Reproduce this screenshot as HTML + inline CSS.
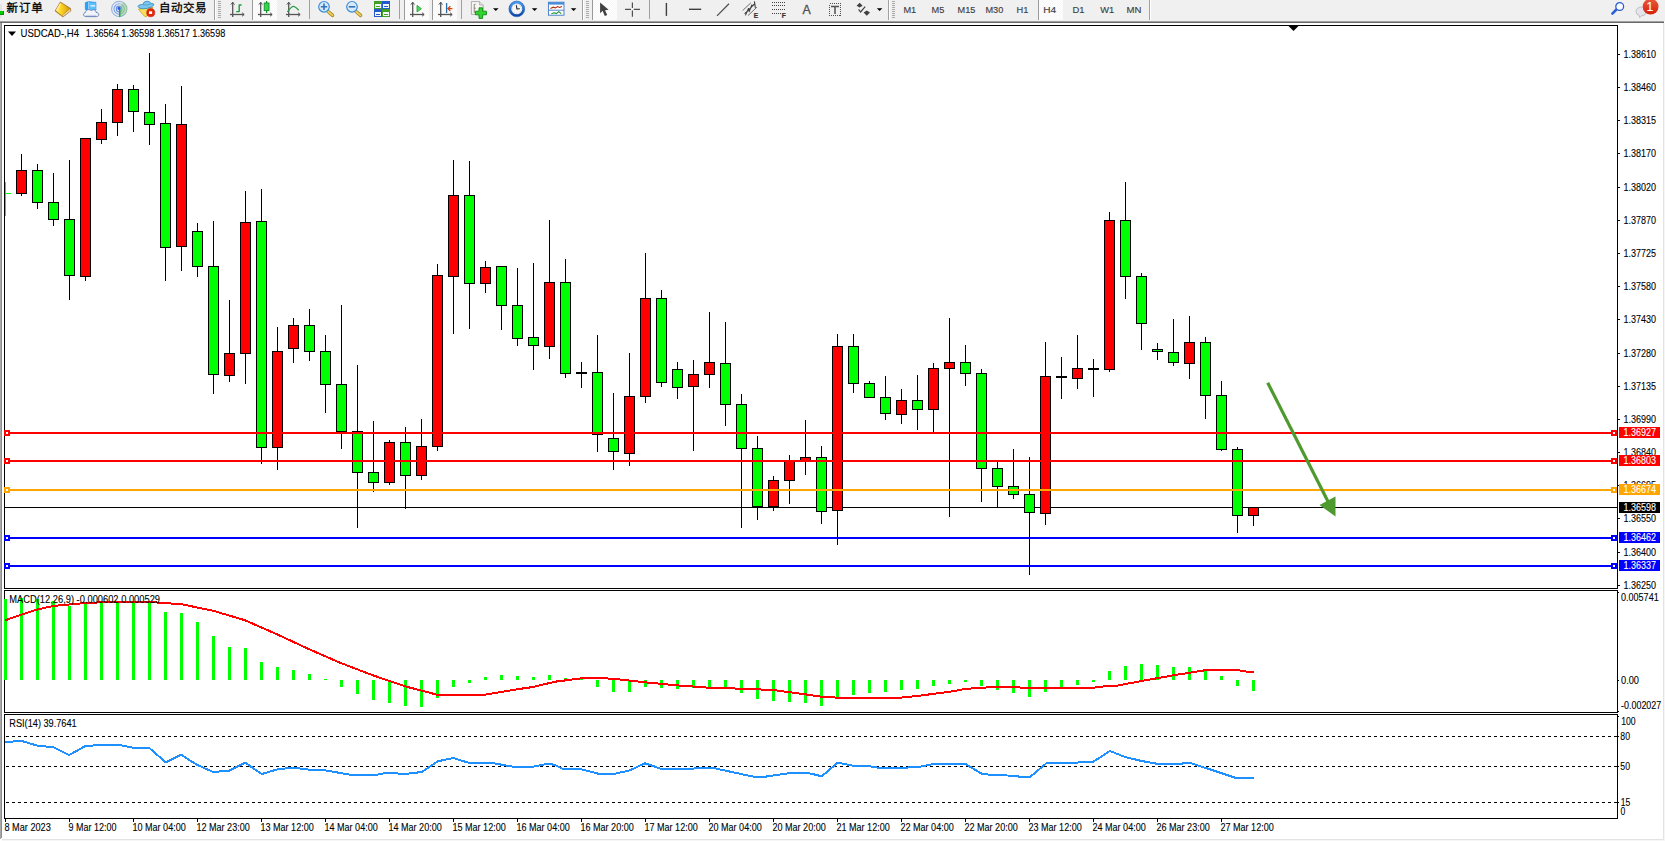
<!DOCTYPE html>
<html lang="zh"><head><meta charset="utf-8"><title>USDCAD-,H4</title>
<style>html,body{margin:0;padding:0;background:#fff;overflow:hidden}body{width:1665px;height:841px;position:relative;font-family:"Liberation Sans", "Noto Sans CJK SC", sans-serif}svg{position:absolute;left:0;top:0;display:block}text{font-family:"Liberation Sans", "Noto Sans CJK SC", sans-serif}</style>
</head><body>
<svg width="1665" height="841" viewBox="0 0 1665 841">
<rect x="0" y="0" width="1665" height="841" fill="#fff"/>
<g shape-rendering="crispEdges">
<rect x="0" y="0" width="1665" height="21" fill="#f0f0f0"/>
<rect x="0" y="21" width="1664" height="1" fill="#a0a0a0"/>
<rect x="0" y="22" width="1664" height="1" fill="#696969"/>
<rect x="0" y="23" width="1" height="816" fill="#a8a8a8"/>
<rect x="1" y="23" width="1" height="815" fill="#8c8c8c"/>
<rect x="1663" y="23" width="1" height="817" fill="#e3e3e3"/>
<rect x="2" y="839" width="1662" height="1" fill="#e3e3e3"/>
<rect x="2" y="840" width="1663" height="1" fill="#f6f6f6"/>
<rect x="1664" y="23" width="1" height="818" fill="#f6f6f6"/>
<rect x="4" y="25" width="1614" height="1" fill="#000"/>
<rect x="4" y="588" width="1614" height="1" fill="#000"/>
<rect x="4" y="25" width="1" height="564" fill="#000"/>
<rect x="1617" y="25" width="1" height="564" fill="#000"/>
<rect x="4" y="590" width="1614" height="1" fill="#000"/>
<rect x="4" y="712" width="1614" height="1" fill="#000"/>
<rect x="4" y="590" width="1" height="123" fill="#000"/>
<rect x="1617" y="590" width="1" height="123" fill="#000"/>
<rect x="4" y="714" width="1614" height="1" fill="#000"/>
<rect x="4" y="818" width="1614" height="1" fill="#000"/>
<rect x="4" y="714" width="1" height="105" fill="#000"/>
<rect x="1617" y="714" width="1" height="105" fill="#000"/>
<rect x="5" y="507" width="1612" height="1" fill="#000"/>
<rect x="5" y="182" width="1" height="34" fill="#00ff00"/><rect x="5" y="193" width="6" height="1" fill="#00ff00"/>
<rect x="21" y="154" width="1" height="42" fill="#000"/>
<rect x="16" y="170" width="11" height="24" fill="#000"/>
<rect x="17" y="171" width="9" height="22" fill="#ff0000"/>
<rect x="37" y="164" width="1" height="45" fill="#000"/>
<rect x="32" y="170" width="11" height="33" fill="#000"/>
<rect x="33" y="171" width="9" height="31" fill="#00ff00"/>
<rect x="53" y="173" width="1" height="53" fill="#000"/>
<rect x="48" y="202" width="11" height="18" fill="#000"/>
<rect x="49" y="203" width="9" height="16" fill="#00ff00"/>
<rect x="69" y="160" width="1" height="140" fill="#000"/>
<rect x="64" y="219" width="11" height="57" fill="#000"/>
<rect x="65" y="220" width="9" height="55" fill="#00ff00"/>
<rect x="85" y="138" width="1" height="143" fill="#000"/>
<rect x="80" y="138" width="11" height="139" fill="#000"/>
<rect x="81" y="139" width="9" height="137" fill="#ff0000"/>
<rect x="101" y="109" width="1" height="35" fill="#000"/>
<rect x="96" y="122" width="11" height="18" fill="#000"/>
<rect x="97" y="123" width="9" height="16" fill="#ff0000"/>
<rect x="117" y="84" width="1" height="52" fill="#000"/>
<rect x="112" y="89" width="11" height="34" fill="#000"/>
<rect x="113" y="90" width="9" height="32" fill="#ff0000"/>
<rect x="133" y="85" width="1" height="47" fill="#000"/>
<rect x="128" y="89" width="11" height="23" fill="#000"/>
<rect x="129" y="90" width="9" height="21" fill="#00ff00"/>
<rect x="149" y="53" width="1" height="92" fill="#000"/>
<rect x="144" y="112" width="11" height="13" fill="#000"/>
<rect x="145" y="113" width="9" height="11" fill="#00ff00"/>
<rect x="165" y="104" width="1" height="177" fill="#000"/>
<rect x="160" y="123" width="11" height="125" fill="#000"/>
<rect x="161" y="124" width="9" height="123" fill="#00ff00"/>
<rect x="181" y="86" width="1" height="185" fill="#000"/>
<rect x="176" y="124" width="11" height="123" fill="#000"/>
<rect x="177" y="125" width="9" height="121" fill="#ff0000"/>
<rect x="197" y="223" width="1" height="54" fill="#000"/>
<rect x="192" y="231" width="11" height="36" fill="#000"/>
<rect x="193" y="232" width="9" height="34" fill="#00ff00"/>
<rect x="213" y="221" width="1" height="173" fill="#000"/>
<rect x="208" y="266" width="11" height="109" fill="#000"/>
<rect x="209" y="267" width="9" height="107" fill="#00ff00"/>
<rect x="229" y="300" width="1" height="82" fill="#000"/>
<rect x="224" y="353" width="11" height="23" fill="#000"/>
<rect x="225" y="354" width="9" height="21" fill="#ff0000"/>
<rect x="245" y="191" width="1" height="193" fill="#000"/>
<rect x="240" y="222" width="11" height="132" fill="#000"/>
<rect x="241" y="223" width="9" height="130" fill="#ff0000"/>
<rect x="261" y="189" width="1" height="275" fill="#000"/>
<rect x="256" y="221" width="11" height="227" fill="#000"/>
<rect x="257" y="222" width="9" height="225" fill="#00ff00"/>
<rect x="277" y="327" width="1" height="143" fill="#000"/>
<rect x="272" y="351" width="11" height="97" fill="#000"/>
<rect x="273" y="352" width="9" height="95" fill="#ff0000"/>
<rect x="293" y="318" width="1" height="45" fill="#000"/>
<rect x="288" y="325" width="11" height="24" fill="#000"/>
<rect x="289" y="326" width="9" height="22" fill="#ff0000"/>
<rect x="309" y="309" width="1" height="52" fill="#000"/>
<rect x="304" y="325" width="11" height="27" fill="#000"/>
<rect x="305" y="326" width="9" height="25" fill="#00ff00"/>
<rect x="325" y="335" width="1" height="78" fill="#000"/>
<rect x="320" y="351" width="11" height="34" fill="#000"/>
<rect x="321" y="352" width="9" height="32" fill="#00ff00"/>
<rect x="341" y="305" width="1" height="144" fill="#000"/>
<rect x="336" y="384" width="11" height="48" fill="#000"/>
<rect x="337" y="385" width="9" height="46" fill="#00ff00"/>
<rect x="357" y="365" width="1" height="163" fill="#000"/>
<rect x="352" y="431" width="11" height="42" fill="#000"/>
<rect x="353" y="432" width="9" height="40" fill="#00ff00"/>
<rect x="373" y="421" width="1" height="71" fill="#000"/>
<rect x="368" y="472" width="11" height="11" fill="#000"/>
<rect x="369" y="473" width="9" height="9" fill="#00ff00"/>
<rect x="389" y="440" width="1" height="45" fill="#000"/>
<rect x="384" y="442" width="11" height="41" fill="#000"/>
<rect x="385" y="443" width="9" height="39" fill="#ff0000"/>
<rect x="405" y="427" width="1" height="82" fill="#000"/>
<rect x="400" y="442" width="11" height="34" fill="#000"/>
<rect x="401" y="443" width="9" height="32" fill="#00ff00"/>
<rect x="421" y="419" width="1" height="61" fill="#000"/>
<rect x="416" y="446" width="11" height="30" fill="#000"/>
<rect x="417" y="447" width="9" height="28" fill="#ff0000"/>
<rect x="437" y="264" width="1" height="187" fill="#000"/>
<rect x="432" y="275" width="11" height="172" fill="#000"/>
<rect x="433" y="276" width="9" height="170" fill="#ff0000"/>
<rect x="453" y="160" width="1" height="174" fill="#000"/>
<rect x="448" y="195" width="11" height="82" fill="#000"/>
<rect x="449" y="196" width="9" height="80" fill="#ff0000"/>
<rect x="469" y="161" width="1" height="168" fill="#000"/>
<rect x="464" y="195" width="11" height="89" fill="#000"/>
<rect x="465" y="196" width="9" height="87" fill="#00ff00"/>
<rect x="485" y="261" width="1" height="32" fill="#000"/>
<rect x="480" y="267" width="11" height="17" fill="#000"/>
<rect x="481" y="268" width="9" height="15" fill="#ff0000"/>
<rect x="501" y="266" width="1" height="64" fill="#000"/>
<rect x="496" y="266" width="11" height="40" fill="#000"/>
<rect x="497" y="267" width="9" height="38" fill="#00ff00"/>
<rect x="517" y="268" width="1" height="78" fill="#000"/>
<rect x="512" y="305" width="11" height="34" fill="#000"/>
<rect x="513" y="306" width="9" height="32" fill="#00ff00"/>
<rect x="533" y="263" width="1" height="107" fill="#000"/>
<rect x="528" y="337" width="11" height="9" fill="#000"/>
<rect x="529" y="338" width="9" height="7" fill="#00ff00"/>
<rect x="549" y="220" width="1" height="139" fill="#000"/>
<rect x="544" y="282" width="11" height="65" fill="#000"/>
<rect x="545" y="283" width="9" height="63" fill="#ff0000"/>
<rect x="565" y="259" width="1" height="119" fill="#000"/>
<rect x="560" y="282" width="11" height="92" fill="#000"/>
<rect x="561" y="283" width="9" height="90" fill="#00ff00"/>
<rect x="581" y="362" width="1" height="26" fill="#000"/>
<rect x="576" y="372" width="11" height="2" fill="#000"/>
<rect x="597" y="335" width="1" height="117" fill="#000"/>
<rect x="592" y="372" width="11" height="63" fill="#000"/>
<rect x="593" y="373" width="9" height="61" fill="#00ff00"/>
<rect x="613" y="393" width="1" height="77" fill="#000"/>
<rect x="608" y="438" width="11" height="14" fill="#000"/>
<rect x="609" y="439" width="9" height="12" fill="#00ff00"/>
<rect x="629" y="353" width="1" height="113" fill="#000"/>
<rect x="624" y="396" width="11" height="58" fill="#000"/>
<rect x="625" y="397" width="9" height="56" fill="#ff0000"/>
<rect x="645" y="253" width="1" height="150" fill="#000"/>
<rect x="640" y="298" width="11" height="99" fill="#000"/>
<rect x="641" y="299" width="9" height="97" fill="#ff0000"/>
<rect x="661" y="290" width="1" height="97" fill="#000"/>
<rect x="656" y="298" width="11" height="85" fill="#000"/>
<rect x="657" y="299" width="9" height="83" fill="#00ff00"/>
<rect x="677" y="362" width="1" height="37" fill="#000"/>
<rect x="672" y="369" width="11" height="19" fill="#000"/>
<rect x="673" y="370" width="9" height="17" fill="#00ff00"/>
<rect x="693" y="360" width="1" height="91" fill="#000"/>
<rect x="688" y="374" width="11" height="13" fill="#000"/>
<rect x="689" y="375" width="9" height="11" fill="#ff0000"/>
<rect x="709" y="312" width="1" height="76" fill="#000"/>
<rect x="704" y="362" width="11" height="13" fill="#000"/>
<rect x="705" y="363" width="9" height="11" fill="#ff0000"/>
<rect x="725" y="322" width="1" height="104" fill="#000"/>
<rect x="720" y="363" width="11" height="42" fill="#000"/>
<rect x="721" y="364" width="9" height="40" fill="#00ff00"/>
<rect x="741" y="394" width="1" height="134" fill="#000"/>
<rect x="736" y="404" width="11" height="45" fill="#000"/>
<rect x="737" y="405" width="9" height="43" fill="#00ff00"/>
<rect x="757" y="436" width="1" height="84" fill="#000"/>
<rect x="752" y="448" width="11" height="59" fill="#000"/>
<rect x="753" y="449" width="9" height="57" fill="#00ff00"/>
<rect x="773" y="476" width="1" height="35" fill="#000"/>
<rect x="768" y="480" width="11" height="27" fill="#000"/>
<rect x="769" y="481" width="9" height="25" fill="#ff0000"/>
<rect x="789" y="455" width="1" height="49" fill="#000"/>
<rect x="784" y="460" width="11" height="21" fill="#000"/>
<rect x="785" y="461" width="9" height="19" fill="#ff0000"/>
<rect x="805" y="420" width="1" height="55" fill="#000"/>
<rect x="800" y="457" width="11" height="4" fill="#000"/>
<rect x="801" y="458" width="9" height="2" fill="#ff0000"/>
<rect x="821" y="446" width="1" height="78" fill="#000"/>
<rect x="816" y="457" width="11" height="55" fill="#000"/>
<rect x="817" y="458" width="9" height="53" fill="#00ff00"/>
<rect x="837" y="334" width="1" height="211" fill="#000"/>
<rect x="832" y="346" width="11" height="165" fill="#000"/>
<rect x="833" y="347" width="9" height="163" fill="#ff0000"/>
<rect x="853" y="334" width="1" height="59" fill="#000"/>
<rect x="848" y="346" width="11" height="38" fill="#000"/>
<rect x="849" y="347" width="9" height="36" fill="#00ff00"/>
<rect x="869" y="381" width="1" height="17" fill="#000"/>
<rect x="864" y="383" width="11" height="15" fill="#000"/>
<rect x="865" y="384" width="9" height="13" fill="#00ff00"/>
<rect x="885" y="376" width="1" height="44" fill="#000"/>
<rect x="880" y="397" width="11" height="17" fill="#000"/>
<rect x="881" y="398" width="9" height="15" fill="#00ff00"/>
<rect x="901" y="389" width="1" height="35" fill="#000"/>
<rect x="896" y="400" width="11" height="15" fill="#000"/>
<rect x="897" y="401" width="9" height="13" fill="#ff0000"/>
<rect x="917" y="375" width="1" height="55" fill="#000"/>
<rect x="912" y="400" width="11" height="10" fill="#000"/>
<rect x="913" y="401" width="9" height="8" fill="#00ff00"/>
<rect x="933" y="363" width="1" height="69" fill="#000"/>
<rect x="928" y="368" width="11" height="42" fill="#000"/>
<rect x="929" y="369" width="9" height="40" fill="#ff0000"/>
<rect x="949" y="318" width="1" height="199" fill="#000"/>
<rect x="944" y="362" width="11" height="7" fill="#000"/>
<rect x="945" y="363" width="9" height="5" fill="#ff0000"/>
<rect x="965" y="345" width="1" height="41" fill="#000"/>
<rect x="960" y="362" width="11" height="12" fill="#000"/>
<rect x="961" y="363" width="9" height="10" fill="#00ff00"/>
<rect x="981" y="369" width="1" height="133" fill="#000"/>
<rect x="976" y="373" width="11" height="96" fill="#000"/>
<rect x="977" y="374" width="9" height="94" fill="#00ff00"/>
<rect x="997" y="462" width="1" height="46" fill="#000"/>
<rect x="992" y="468" width="11" height="19" fill="#000"/>
<rect x="993" y="469" width="9" height="17" fill="#00ff00"/>
<rect x="1013" y="449" width="1" height="50" fill="#000"/>
<rect x="1008" y="486" width="11" height="9" fill="#000"/>
<rect x="1009" y="487" width="9" height="7" fill="#00ff00"/>
<rect x="1029" y="457" width="1" height="118" fill="#000"/>
<rect x="1024" y="494" width="11" height="19" fill="#000"/>
<rect x="1025" y="495" width="9" height="17" fill="#00ff00"/>
<rect x="1045" y="342" width="1" height="183" fill="#000"/>
<rect x="1040" y="376" width="11" height="138" fill="#000"/>
<rect x="1041" y="377" width="9" height="136" fill="#ff0000"/>
<rect x="1061" y="357" width="1" height="42" fill="#000"/>
<rect x="1056" y="376" width="11" height="2" fill="#000"/>
<rect x="1077" y="335" width="1" height="54" fill="#000"/>
<rect x="1072" y="368" width="11" height="11" fill="#000"/>
<rect x="1073" y="369" width="9" height="9" fill="#ff0000"/>
<rect x="1093" y="359" width="1" height="38" fill="#000"/>
<rect x="1088" y="368" width="11" height="2" fill="#000"/>
<rect x="1109" y="212" width="1" height="160" fill="#000"/>
<rect x="1104" y="220" width="11" height="150" fill="#000"/>
<rect x="1105" y="221" width="9" height="148" fill="#ff0000"/>
<rect x="1125" y="182" width="1" height="117" fill="#000"/>
<rect x="1120" y="220" width="11" height="57" fill="#000"/>
<rect x="1121" y="221" width="9" height="55" fill="#00ff00"/>
<rect x="1141" y="273" width="1" height="77" fill="#000"/>
<rect x="1136" y="276" width="11" height="48" fill="#000"/>
<rect x="1137" y="277" width="9" height="46" fill="#00ff00"/>
<rect x="1157" y="343" width="1" height="17" fill="#000"/>
<rect x="1152" y="349" width="11" height="3" fill="#000"/>
<rect x="1153" y="350" width="9" height="1" fill="#00ff00"/>
<rect x="1173" y="319" width="1" height="47" fill="#000"/>
<rect x="1168" y="352" width="11" height="11" fill="#000"/>
<rect x="1169" y="353" width="9" height="9" fill="#00ff00"/>
<rect x="1189" y="316" width="1" height="63" fill="#000"/>
<rect x="1184" y="342" width="11" height="22" fill="#000"/>
<rect x="1185" y="343" width="9" height="20" fill="#ff0000"/>
<rect x="1205" y="337" width="1" height="82" fill="#000"/>
<rect x="1200" y="342" width="11" height="54" fill="#000"/>
<rect x="1201" y="343" width="9" height="52" fill="#00ff00"/>
<rect x="1221" y="381" width="1" height="70" fill="#000"/>
<rect x="1216" y="395" width="11" height="55" fill="#000"/>
<rect x="1217" y="396" width="9" height="53" fill="#00ff00"/>
<rect x="1237" y="447" width="1" height="86" fill="#000"/>
<rect x="1232" y="449" width="11" height="67" fill="#000"/>
<rect x="1233" y="450" width="9" height="65" fill="#00ff00"/>
<rect x="1253" y="507" width="1" height="19" fill="#000"/>
<rect x="1248" y="507" width="11" height="9" fill="#000"/>
<rect x="1249" y="508" width="9" height="7" fill="#ff0000"/>
</g>
<g shape-rendering="crispEdges">
<rect x="5" y="432" width="1612" height="2" fill="#ff0000"/>
<rect x="4" y="430" width="6" height="6" fill="#ff0000"/><rect x="6" y="432" width="2" height="2" fill="#fff"/>
<rect x="1611" y="430" width="6" height="6" fill="#ff0000"/><rect x="1613" y="432" width="2" height="2" fill="#fff"/>
<rect x="5" y="460" width="1612" height="2" fill="#ff0000"/>
<rect x="4" y="458" width="6" height="6" fill="#ff0000"/><rect x="6" y="460" width="2" height="2" fill="#fff"/>
<rect x="1611" y="458" width="6" height="6" fill="#ff0000"/><rect x="1613" y="460" width="2" height="2" fill="#fff"/>
<rect x="5" y="489" width="1612" height="2" fill="#ffa500"/>
<rect x="4" y="487" width="6" height="6" fill="#ffa500"/><rect x="6" y="489" width="2" height="2" fill="#fff"/>
<rect x="1611" y="487" width="6" height="6" fill="#ffa500"/><rect x="1613" y="489" width="2" height="2" fill="#fff"/>
<rect x="5" y="537" width="1612" height="2" fill="#0000ff"/>
<rect x="4" y="535" width="6" height="6" fill="#0000ff"/><rect x="6" y="537" width="2" height="2" fill="#fff"/>
<rect x="1611" y="535" width="6" height="6" fill="#0000ff"/><rect x="1613" y="537" width="2" height="2" fill="#fff"/>
<rect x="5" y="565" width="1612" height="2" fill="#0000ff"/>
<rect x="4" y="563" width="6" height="6" fill="#0000ff"/><rect x="6" y="565" width="2" height="2" fill="#fff"/>
<rect x="1611" y="563" width="6" height="6" fill="#0000ff"/><rect x="1613" y="565" width="2" height="2" fill="#fff"/>
<rect x="1618" y="54" width="2" height="1" fill="#000"/>
<rect x="1618" y="87" width="2" height="1" fill="#000"/>
<rect x="1618" y="120" width="2" height="1" fill="#000"/>
<rect x="1618" y="153" width="2" height="1" fill="#000"/>
<rect x="1618" y="187" width="2" height="1" fill="#000"/>
<rect x="1618" y="220" width="2" height="1" fill="#000"/>
<rect x="1618" y="253" width="2" height="1" fill="#000"/>
<rect x="1618" y="286" width="2" height="1" fill="#000"/>
<rect x="1618" y="319" width="2" height="1" fill="#000"/>
<rect x="1618" y="353" width="2" height="1" fill="#000"/>
<rect x="1618" y="386" width="2" height="1" fill="#000"/>
<rect x="1618" y="419" width="2" height="1" fill="#000"/>
<rect x="1618" y="452" width="2" height="1" fill="#000"/>
<rect x="1618" y="485" width="2" height="1" fill="#000"/>
<rect x="1618" y="518" width="2" height="1" fill="#000"/>
<rect x="1618" y="552" width="2" height="1" fill="#000"/>
<rect x="1618" y="585" width="2" height="1" fill="#000"/>
<rect x="1618" y="592" width="1" height="1" fill="#000"/>
<rect x="1618" y="680" width="1" height="1" fill="#000"/>
<rect x="1618" y="711" width="1" height="1" fill="#000"/>
<rect x="1618" y="716" width="1" height="1" fill="#000"/>
<rect x="1618" y="736" width="1" height="1" fill="#000"/>
<rect x="1618" y="766" width="1" height="1" fill="#000"/>
<rect x="1618" y="802" width="1" height="1" fill="#000"/>
<polygon points="1288.5,26 1298.5,26 1293.5,31" fill="#000" shape-rendering="auto"/>
<rect x="4" y="599" width="3" height="81" fill="#00ff00"/>
<rect x="20" y="598" width="3" height="82" fill="#00ff00"/>
<rect x="36" y="599" width="3" height="81" fill="#00ff00"/>
<rect x="52" y="601" width="3" height="79" fill="#00ff00"/>
<rect x="68" y="606" width="3" height="74" fill="#00ff00"/>
<rect x="84" y="604" width="3" height="76" fill="#00ff00"/>
<rect x="100" y="603" width="3" height="77" fill="#00ff00"/>
<rect x="116" y="602" width="3" height="78" fill="#00ff00"/>
<rect x="132" y="602" width="3" height="78" fill="#00ff00"/>
<rect x="148" y="602" width="3" height="78" fill="#00ff00"/>
<rect x="164" y="612" width="3" height="68" fill="#00ff00"/>
<rect x="180" y="613" width="3" height="67" fill="#00ff00"/>
<rect x="196" y="622" width="3" height="58" fill="#00ff00"/>
<rect x="212" y="636" width="3" height="44" fill="#00ff00"/>
<rect x="228" y="647" width="3" height="33" fill="#00ff00"/>
<rect x="244" y="648" width="3" height="32" fill="#00ff00"/>
<rect x="260" y="662" width="3" height="18" fill="#00ff00"/>
<rect x="276" y="667" width="3" height="13" fill="#00ff00"/>
<rect x="292" y="670" width="3" height="10" fill="#00ff00"/>
<rect x="308" y="674" width="3" height="6" fill="#00ff00"/>
<rect x="324" y="679" width="3" height="1" fill="#00ff00"/>
<rect x="340" y="680" width="3" height="7" fill="#00ff00"/>
<rect x="356" y="680" width="3" height="14" fill="#00ff00"/>
<rect x="372" y="680" width="3" height="20" fill="#00ff00"/>
<rect x="388" y="680" width="3" height="23" fill="#00ff00"/>
<rect x="404" y="680" width="3" height="26" fill="#00ff00"/>
<rect x="420" y="680" width="3" height="27" fill="#00ff00"/>
<rect x="436" y="680" width="3" height="18" fill="#00ff00"/>
<rect x="452" y="680" width="3" height="7" fill="#00ff00"/>
<rect x="468" y="680" width="3" height="3" fill="#00ff00"/>
<rect x="484" y="677" width="3" height="3" fill="#00ff00"/>
<rect x="500" y="675" width="3" height="5" fill="#00ff00"/>
<rect x="516" y="676" width="3" height="4" fill="#00ff00"/>
<rect x="532" y="677" width="3" height="3" fill="#00ff00"/>
<rect x="548" y="675" width="3" height="5" fill="#00ff00"/>
<rect x="564" y="678" width="3" height="2" fill="#00ff00"/>
<rect x="580" y="679" width="3" height="1" fill="#00ff00"/>
<rect x="596" y="680" width="3" height="7" fill="#00ff00"/>
<rect x="612" y="680" width="3" height="12" fill="#00ff00"/>
<rect x="628" y="680" width="3" height="12" fill="#00ff00"/>
<rect x="644" y="680" width="3" height="7" fill="#00ff00"/>
<rect x="660" y="680" width="3" height="8" fill="#00ff00"/>
<rect x="676" y="680" width="3" height="9" fill="#00ff00"/>
<rect x="692" y="680" width="3" height="8" fill="#00ff00"/>
<rect x="708" y="680" width="3" height="7" fill="#00ff00"/>
<rect x="724" y="680" width="3" height="8" fill="#00ff00"/>
<rect x="740" y="680" width="3" height="13" fill="#00ff00"/>
<rect x="756" y="680" width="3" height="19" fill="#00ff00"/>
<rect x="772" y="680" width="3" height="21" fill="#00ff00"/>
<rect x="788" y="680" width="3" height="22" fill="#00ff00"/>
<rect x="804" y="680" width="3" height="23" fill="#00ff00"/>
<rect x="820" y="680" width="3" height="26" fill="#00ff00"/>
<rect x="836" y="680" width="3" height="18" fill="#00ff00"/>
<rect x="852" y="680" width="3" height="15" fill="#00ff00"/>
<rect x="868" y="680" width="3" height="13" fill="#00ff00"/>
<rect x="884" y="680" width="3" height="12" fill="#00ff00"/>
<rect x="900" y="680" width="3" height="10" fill="#00ff00"/>
<rect x="916" y="680" width="3" height="9" fill="#00ff00"/>
<rect x="932" y="680" width="3" height="6" fill="#00ff00"/>
<rect x="948" y="680" width="3" height="4" fill="#00ff00"/>
<rect x="964" y="680" width="3" height="2" fill="#00ff00"/>
<rect x="980" y="680" width="3" height="6" fill="#00ff00"/>
<rect x="996" y="680" width="3" height="10" fill="#00ff00"/>
<rect x="1012" y="680" width="3" height="13" fill="#00ff00"/>
<rect x="1028" y="680" width="3" height="17" fill="#00ff00"/>
<rect x="1044" y="680" width="3" height="12" fill="#00ff00"/>
<rect x="1060" y="680" width="3" height="8" fill="#00ff00"/>
<rect x="1076" y="680" width="3" height="5" fill="#00ff00"/>
<rect x="1092" y="680" width="3" height="2" fill="#00ff00"/>
<rect x="1108" y="671" width="3" height="9" fill="#00ff00"/>
<rect x="1124" y="666" width="3" height="14" fill="#00ff00"/>
<rect x="1140" y="664" width="3" height="16" fill="#00ff00"/>
<rect x="1156" y="665" width="3" height="15" fill="#00ff00"/>
<rect x="1172" y="667" width="3" height="13" fill="#00ff00"/>
<rect x="1188" y="667" width="3" height="13" fill="#00ff00"/>
<rect x="1204" y="671" width="3" height="9" fill="#00ff00"/>
<rect x="1220" y="676" width="3" height="4" fill="#00ff00"/>
<rect x="1236" y="680" width="3" height="6" fill="#00ff00"/>
<rect x="1252" y="680" width="3" height="11" fill="#00ff00"/>
<line x1="6" y1="736.5" x2="1617" y2="736.5" stroke="#000" stroke-width="1" stroke-dasharray="3 3"/>
<line x1="6" y1="766.5" x2="1617" y2="766.5" stroke="#000" stroke-width="1" stroke-dasharray="3 3"/>
<line x1="6" y1="802.5" x2="1617" y2="802.5" stroke="#000" stroke-width="1" stroke-dasharray="3 3"/>
<rect x="5" y="819" width="1" height="3" fill="#000"/>
<rect x="69" y="819" width="1" height="3" fill="#000"/>
<rect x="133" y="819" width="1" height="3" fill="#000"/>
<rect x="197" y="819" width="1" height="3" fill="#000"/>
<rect x="261" y="819" width="1" height="3" fill="#000"/>
<rect x="325" y="819" width="1" height="3" fill="#000"/>
<rect x="389" y="819" width="1" height="3" fill="#000"/>
<rect x="453" y="819" width="1" height="3" fill="#000"/>
<rect x="517" y="819" width="1" height="3" fill="#000"/>
<rect x="581" y="819" width="1" height="3" fill="#000"/>
<rect x="645" y="819" width="1" height="3" fill="#000"/>
<rect x="709" y="819" width="1" height="3" fill="#000"/>
<rect x="773" y="819" width="1" height="3" fill="#000"/>
<rect x="837" y="819" width="1" height="3" fill="#000"/>
<rect x="901" y="819" width="1" height="3" fill="#000"/>
<rect x="965" y="819" width="1" height="3" fill="#000"/>
<rect x="1029" y="819" width="1" height="3" fill="#000"/>
<rect x="1093" y="819" width="1" height="3" fill="#000"/>
<rect x="1157" y="819" width="1" height="3" fill="#000"/>
<rect x="1221" y="819" width="1" height="3" fill="#000"/>
</g>
<polyline shape-rendering="crispEdges" fill="none" stroke="#ff0000" stroke-width="2" stroke-linejoin="round" points="5.0,620.3 36.7,609.7 53.0,606.0 85.0,603.0 117.0,601.7 150.0,602.0 181.7,604.3 213.0,610.7 245.0,620.3 277.0,634.3 308.0,648.7 340.0,662.7 372.0,675.0 405.0,686.3 437.0,694.7 485.0,694.7 517.0,689.3 533.0,687.0 555.0,681.7 586.7,677.7 613.3,678.7 645.0,682.3 676.7,685.3 708.3,687.7 741.7,688.7 773.3,690.0 805.0,694.3 821.7,696.7 838.3,697.7 900.0,697.7 916.7,696.0 948.3,692.0 965.0,689.0 981.7,687.7 998.3,687.0 1028.3,687.7 1093.3,687.7 1110.0,685.7 1116.7,685.7 1141.7,681.0 1173.3,675.3 1206.7,670.0 1236.7,670.0 1246.7,671.7 1254.0,671.7"/>
<polyline shape-rendering="crispEdges" fill="none" stroke="#1e90ff" stroke-width="2" stroke-linejoin="round" points="5.0,742.0 21.7,741.0 37.7,745.7 53.3,747.3 69.3,755.0 85.3,746.0 101.7,745.0 118.3,744.7 133.3,747.7 149.3,748.0 165.7,762.3 181.0,754.7 197.3,765.0 213.3,772.0 229.3,770.7 245.3,762.7 261.7,774.0 277.7,769.3 293.3,767.7 310.0,769.7 325.0,770.3 350.0,774.7 376.7,774.7 386.7,772.7 405.0,774.0 421.7,772.0 437.7,761.3 453.3,758.0 468.3,762.7 491.7,763.0 515.0,767.0 533.3,766.7 548.3,763.7 555.0,765.0 563.3,769.0 580.0,769.0 598.3,773.7 615.0,773.7 630.0,770.3 645.0,763.3 661.7,769.0 691.7,769.0 698.3,767.7 713.3,768.0 731.7,772.0 755.0,777.0 763.3,777.0 790.0,773.0 808.3,773.0 821.7,776.3 837.7,762.7 853.3,765.7 868.3,766.0 880.0,768.0 900.0,768.0 920.0,766.7 935.0,763.7 965.0,763.7 981.7,773.7 991.7,775.0 1013.3,775.7 1021.7,777.0 1030.0,777.0 1046.7,763.0 1076.7,763.0 1080.0,761.7 1093.3,761.7 1110.0,751.0 1125.0,757.0 1141.7,761.0 1160.0,764.3 1180.0,764.3 1183.3,763.3 1191.7,763.3 1235.0,777.7 1254.0,777.7"/>
<g><line x1="1267.7" y1="382.7" x2="1328.5" y2="502.5" stroke="#4e9a2e" stroke-width="3.2"/><polygon points="1335.5,496.5 1319.5,505 1335.5,516.5" fill="#4e9a2e"/></g>
<polygon points="8,31.5 16,31.5 12,36" fill="#000"/>
<text x="20.5" y="37" font-size="10.4" fill="#000" textLength="58.5" lengthAdjust="spacingAndGlyphs"  stroke="#000" stroke-width="0.1">USDCAD-,H4</text>
<text x="85.8" y="37" font-size="10.4" fill="#000" textLength="139.5" lengthAdjust="spacingAndGlyphs"  stroke="#000" stroke-width="0.1">1.36564 1.36598 1.36517 1.36598</text>
<text x="1623.5" y="58" font-size="10.4" fill="#000" textLength="32.5" lengthAdjust="spacingAndGlyphs"  stroke="#000" stroke-width="0.1">1.38610</text>
<text x="1623.5" y="91" font-size="10.4" fill="#000" textLength="32.5" lengthAdjust="spacingAndGlyphs"  stroke="#000" stroke-width="0.1">1.38460</text>
<text x="1623.5" y="124" font-size="10.4" fill="#000" textLength="32.5" lengthAdjust="spacingAndGlyphs"  stroke="#000" stroke-width="0.1">1.38315</text>
<text x="1623.5" y="157" font-size="10.4" fill="#000" textLength="32.5" lengthAdjust="spacingAndGlyphs"  stroke="#000" stroke-width="0.1">1.38170</text>
<text x="1623.5" y="191" font-size="10.4" fill="#000" textLength="32.5" lengthAdjust="spacingAndGlyphs"  stroke="#000" stroke-width="0.1">1.38020</text>
<text x="1623.5" y="224" font-size="10.4" fill="#000" textLength="32.5" lengthAdjust="spacingAndGlyphs"  stroke="#000" stroke-width="0.1">1.37870</text>
<text x="1623.5" y="257" font-size="10.4" fill="#000" textLength="32.5" lengthAdjust="spacingAndGlyphs"  stroke="#000" stroke-width="0.1">1.37725</text>
<text x="1623.5" y="290" font-size="10.4" fill="#000" textLength="32.5" lengthAdjust="spacingAndGlyphs"  stroke="#000" stroke-width="0.1">1.37580</text>
<text x="1623.5" y="323" font-size="10.4" fill="#000" textLength="32.5" lengthAdjust="spacingAndGlyphs"  stroke="#000" stroke-width="0.1">1.37430</text>
<text x="1623.5" y="357" font-size="10.4" fill="#000" textLength="32.5" lengthAdjust="spacingAndGlyphs"  stroke="#000" stroke-width="0.1">1.37280</text>
<text x="1623.5" y="390" font-size="10.4" fill="#000" textLength="32.5" lengthAdjust="spacingAndGlyphs"  stroke="#000" stroke-width="0.1">1.37135</text>
<text x="1623.5" y="423" font-size="10.4" fill="#000" textLength="32.5" lengthAdjust="spacingAndGlyphs"  stroke="#000" stroke-width="0.1">1.36990</text>
<text x="1623.5" y="456" font-size="10.4" fill="#000" textLength="32.5" lengthAdjust="spacingAndGlyphs"  stroke="#000" stroke-width="0.1">1.36840</text>
<text x="1623.5" y="489" font-size="10.4" fill="#000" textLength="32.5" lengthAdjust="spacingAndGlyphs"  stroke="#000" stroke-width="0.1">1.36695</text>
<text x="1623.5" y="522" font-size="10.4" fill="#000" textLength="32.5" lengthAdjust="spacingAndGlyphs"  stroke="#000" stroke-width="0.1">1.36550</text>
<text x="1623.5" y="556" font-size="10.4" fill="#000" textLength="32.5" lengthAdjust="spacingAndGlyphs"  stroke="#000" stroke-width="0.1">1.36400</text>
<text x="1623.5" y="589" font-size="10.4" fill="#000" textLength="32.5" lengthAdjust="spacingAndGlyphs"  stroke="#000" stroke-width="0.1">1.36250</text>
<g shape-rendering="crispEdges">
<rect x="1619" y="427" width="41" height="11" fill="#ff0000"/>
<rect x="1619" y="455" width="41" height="11" fill="#ff0000"/>
<rect x="1619" y="484" width="41" height="11" fill="#ffa500"/>
<rect x="1619" y="532" width="41" height="11" fill="#0000ff"/>
<rect x="1619" y="560" width="41" height="11" fill="#0000ff"/>
<rect x="1619" y="502" width="41" height="11" fill="#000"/>
</g>
<text x="1623.5" y="436" font-size="10.4" fill="#fff" textLength="32.5" lengthAdjust="spacingAndGlyphs"  stroke="#fff" stroke-width="0.1">1.36927</text>
<text x="1623.5" y="464" font-size="10.4" fill="#fff" textLength="32.5" lengthAdjust="spacingAndGlyphs"  stroke="#fff" stroke-width="0.1">1.36803</text>
<text x="1623.5" y="493" font-size="10.4" fill="#fff" textLength="32.5" lengthAdjust="spacingAndGlyphs"  stroke="#fff" stroke-width="0.1">1.36674</text>
<text x="1623.5" y="541" font-size="10.4" fill="#fff" textLength="32.5" lengthAdjust="spacingAndGlyphs"  stroke="#fff" stroke-width="0.1">1.36462</text>
<text x="1623.5" y="569" font-size="10.4" fill="#fff" textLength="32.5" lengthAdjust="spacingAndGlyphs"  stroke="#fff" stroke-width="0.1">1.36337</text>
<text x="1623.5" y="511" font-size="10.4" fill="#fff" textLength="32.5" lengthAdjust="spacingAndGlyphs"  stroke="#fff" stroke-width="0.1">1.36598</text>
<text x="9.3" y="603" font-size="10.4" fill="#000" textLength="150.7" lengthAdjust="spacingAndGlyphs"  stroke="#000" stroke-width="0.1">MACD(12,26,9) -0.000602 0.000529</text>
<text x="9.3" y="727" font-size="10.4" fill="#000" textLength="67.4" lengthAdjust="spacingAndGlyphs"  stroke="#000" stroke-width="0.1">RSI(14) 39.7641</text>
<text x="1621" y="601" font-size="10.4" fill="#000" textLength="37.7" lengthAdjust="spacingAndGlyphs"  stroke="#000" stroke-width="0.1">0.005741</text>
<text x="1621" y="684" font-size="10.4" fill="#000" textLength="18" lengthAdjust="spacingAndGlyphs"  stroke="#000" stroke-width="0.1">0.00</text>
<text x="1621" y="709" font-size="10.4" fill="#000" textLength="40.3" lengthAdjust="spacingAndGlyphs"  stroke="#000" stroke-width="0.1">-0.002027</text>
<text x="1621.2" y="725" font-size="10.4" fill="#000" textLength="14.5" lengthAdjust="spacingAndGlyphs"  stroke="#000" stroke-width="0.1">100</text>
<text x="1620.3" y="740" font-size="10.4" fill="#000" textLength="9.7" lengthAdjust="spacingAndGlyphs"  stroke="#000" stroke-width="0.1">80</text>
<text x="1620.3" y="770" font-size="10.4" fill="#000" textLength="9.7" lengthAdjust="spacingAndGlyphs"  stroke="#000" stroke-width="0.1">50</text>
<text x="1620.8" y="806" font-size="10.4" fill="#000" textLength="9.5" lengthAdjust="spacingAndGlyphs"  stroke="#000" stroke-width="0.1">15</text>
<text x="1620.6" y="815" font-size="10.4" fill="#000" textLength="4.8" lengthAdjust="spacingAndGlyphs"  stroke="#000" stroke-width="0.1">0</text>
<text x="4.4" y="831" font-size="10.4" fill="#000" textLength="46.4" lengthAdjust="spacingAndGlyphs"  stroke="#000" stroke-width="0.1">8 Mar 2023</text>
<text x="68.4" y="831" font-size="10.4" fill="#000" textLength="48" lengthAdjust="spacingAndGlyphs"  stroke="#000" stroke-width="0.1">9 Mar 12:00</text>
<text x="132.4" y="831" font-size="10.4" fill="#000" textLength="53.4" lengthAdjust="spacingAndGlyphs"  stroke="#000" stroke-width="0.1">10 Mar 04:00</text>
<text x="196.4" y="831" font-size="10.4" fill="#000" textLength="53.4" lengthAdjust="spacingAndGlyphs"  stroke="#000" stroke-width="0.1">12 Mar 23:00</text>
<text x="260.4" y="831" font-size="10.4" fill="#000" textLength="53.4" lengthAdjust="spacingAndGlyphs"  stroke="#000" stroke-width="0.1">13 Mar 12:00</text>
<text x="324.4" y="831" font-size="10.4" fill="#000" textLength="53.4" lengthAdjust="spacingAndGlyphs"  stroke="#000" stroke-width="0.1">14 Mar 04:00</text>
<text x="388.4" y="831" font-size="10.4" fill="#000" textLength="53.4" lengthAdjust="spacingAndGlyphs"  stroke="#000" stroke-width="0.1">14 Mar 20:00</text>
<text x="452.4" y="831" font-size="10.4" fill="#000" textLength="53.4" lengthAdjust="spacingAndGlyphs"  stroke="#000" stroke-width="0.1">15 Mar 12:00</text>
<text x="516.4" y="831" font-size="10.4" fill="#000" textLength="53.4" lengthAdjust="spacingAndGlyphs"  stroke="#000" stroke-width="0.1">16 Mar 04:00</text>
<text x="580.4" y="831" font-size="10.4" fill="#000" textLength="53.4" lengthAdjust="spacingAndGlyphs"  stroke="#000" stroke-width="0.1">16 Mar 20:00</text>
<text x="644.4" y="831" font-size="10.4" fill="#000" textLength="53.4" lengthAdjust="spacingAndGlyphs"  stroke="#000" stroke-width="0.1">17 Mar 12:00</text>
<text x="708.4" y="831" font-size="10.4" fill="#000" textLength="53.4" lengthAdjust="spacingAndGlyphs"  stroke="#000" stroke-width="0.1">20 Mar 04:00</text>
<text x="772.4" y="831" font-size="10.4" fill="#000" textLength="53.4" lengthAdjust="spacingAndGlyphs"  stroke="#000" stroke-width="0.1">20 Mar 20:00</text>
<text x="836.4" y="831" font-size="10.4" fill="#000" textLength="53.4" lengthAdjust="spacingAndGlyphs"  stroke="#000" stroke-width="0.1">21 Mar 12:00</text>
<text x="900.4" y="831" font-size="10.4" fill="#000" textLength="53.4" lengthAdjust="spacingAndGlyphs"  stroke="#000" stroke-width="0.1">22 Mar 04:00</text>
<text x="964.4" y="831" font-size="10.4" fill="#000" textLength="53.4" lengthAdjust="spacingAndGlyphs"  stroke="#000" stroke-width="0.1">22 Mar 20:00</text>
<text x="1028.4" y="831" font-size="10.4" fill="#000" textLength="53.4" lengthAdjust="spacingAndGlyphs"  stroke="#000" stroke-width="0.1">23 Mar 12:00</text>
<text x="1092.4" y="831" font-size="10.4" fill="#000" textLength="53.4" lengthAdjust="spacingAndGlyphs"  stroke="#000" stroke-width="0.1">24 Mar 04:00</text>
<text x="1156.4" y="831" font-size="10.4" fill="#000" textLength="53.4" lengthAdjust="spacingAndGlyphs"  stroke="#000" stroke-width="0.1">26 Mar 23:00</text>
<text x="1220.4" y="831" font-size="10.4" fill="#000" textLength="53.4" lengthAdjust="spacingAndGlyphs"  stroke="#000" stroke-width="0.1">27 Mar 12:00</text>
<defs>
<linearGradient id="gold" x1="0" y1="0" x2="1" y2="1"><stop offset="0" stop-color="#fbe37a"/><stop offset="0.5" stop-color="#e9b520"/><stop offset="1" stop-color="#b97a10"/></linearGradient>
<linearGradient id="badge" x1="0" y1="0" x2="0" y2="1"><stop offset="0" stop-color="#ea5a3c"/><stop offset="1" stop-color="#d61f08"/></linearGradient>
<linearGradient id="blueg" x1="0" y1="0" x2="0" y2="1"><stop offset="0" stop-color="#6db4f2"/><stop offset="1" stop-color="#1c62c4"/></linearGradient>
<linearGradient id="greeng" x1="0" y1="0" x2="0" y2="1"><stop offset="0" stop-color="#7fd04a"/><stop offset="1" stop-color="#2c9a12"/></linearGradient>
<pattern id="chk" width="2" height="2" patternUnits="userSpaceOnUse"><rect width="2" height="2" fill="#f7f7f7"/><rect width="1" height="1" fill="#ffffff"/><rect x="1" y="1" width="1" height="1" fill="#ffffff"/></pattern>
<g id="dd"><polygon points="0,0 5.6,0 2.8,2.9" fill="#000"/></g>
<g id="axes" fill="none" stroke="#555" stroke-width="1.3"><path d="M2.7,2.2 V17"/><path d="M0,14.5 H14"/><path d="M0.9,4.6 L2.7,2.2 L4.5,4.6" stroke-width="1"/><path d="M12,12.7 L14.2,14.5 L12,16.3" stroke-width="1"/></g>
<g id="grip" fill="#a9a9a9" shape-rendering="crispEdges"><rect x="0" y="1" width="3" height="1"/><rect x="0" y="3" width="3" height="1"/><rect x="0" y="5" width="3" height="1"/><rect x="0" y="7" width="3" height="1"/><rect x="0" y="9" width="3" height="1"/><rect x="0" y="11" width="3" height="1"/><rect x="0" y="13" width="3" height="1"/><rect x="0" y="15" width="3" height="1"/><rect x="0" y="17" width="3" height="1"/></g>
<linearGradient id="clk" x1="0" y1="0" x2="0" y2="1"><stop offset="0" stop-color="#4a98ec"/><stop offset="1" stop-color="#0d48a8"/></linearGradient>
<linearGradient id="gold2" x1="0" y1="0.5" x2="1" y2="0.5"><stop offset="0" stop-color="#fff2a0"/><stop offset="0.35" stop-color="#ffd722"/><stop offset="1" stop-color="#d99a12"/></linearGradient>
<linearGradient id="sig" x1="0" y1="0" x2="1" y2="0"><stop offset="0" stop-color="#3a6fe0"/><stop offset="0.5" stop-color="#4a7fd8"/><stop offset="1" stop-color="#6fb07a"/></linearGradient>
</defs>
<g id="toolbar">
<!-- pressed buttons -->
<g shape-rendering="crispEdges">
<rect x="253" y="0" width="24" height="20" fill="url(#chk)"/><rect x="252" y="0" width="1" height="20" fill="#9a9a9a"/>
<rect x="405" y="0" width="24" height="20" fill="url(#chk)"/><rect x="404" y="0" width="1" height="20" fill="#9a9a9a"/>
<rect x="433" y="0" width="24" height="20" fill="url(#chk)"/><rect x="432" y="0" width="1" height="20" fill="#9a9a9a"/>
<rect x="593" y="0" width="24" height="20" fill="url(#chk)"/><rect x="592" y="0" width="1" height="20" fill="#9a9a9a"/>
<rect x="1039" y="0" width="24" height="20" fill="url(#chk)"/><rect x="1038" y="0" width="1" height="20" fill="#9a9a9a"/>
<!-- separators -->
<g fill="#a0a0a0"><rect x="214" y="0" width="1" height="20"/><rect x="309" y="0" width="1" height="19"/><rect x="399" y="0" width="1" height="19"/><rect x="461" y="0" width="1" height="19"/><rect x="582" y="0" width="1" height="20"/><rect x="649" y="0" width="1" height="19"/><rect x="888" y="0" width="1" height="20"/><rect x="1149" y="0" width="1" height="20"/></g>
<g fill="#ffffff"><rect x="215" y="0" width="1" height="20"/><rect x="583" y="0" width="1" height="20"/><rect x="889" y="0" width="1" height="20"/><rect x="1150" y="0" width="1" height="20"/></g>
</g>
<use href="#grip" x="218" y="0"/><use href="#grip" x="586" y="0"/><use href="#grip" x="892" y="0"/>
<!-- new order partial icon -->
<rect x="0" y="4" width="2" height="14" fill="#e4e4e4"/><rect x="0" y="11" width="4" height="4" fill="#0a900a"/><rect x="0" y="11" width="3" height="3" fill="#00cc00"/>
<text x="6.6" y="12.3" font-size="11.5" letter-spacing="0.8" fill="#000" stroke="#000" stroke-width="0.3">新订单</text>
<!-- gold book -->
<g><path d="M60.3,2 L70.4,8.2 L71,10.8 L62.9,17 L55,10.9 Z" fill="#b07a1a" stroke="#9a6410" stroke-width="0.5" stroke-linejoin="round"/><path d="M69.9,8.9 L70.6,10.7 L62.9,16.5 L62.3,15.6 Z" fill="#ead9a4"/><path d="M60.5,2.7 L69.6,8.4 L62,15.5 L55.8,10.6 Z" fill="url(#gold2)"/><path d="M56.6,10.2 L60.6,3.4" fill="none" stroke="#fff3b0" stroke-width="1.1" opacity="0.9"/></g>
<!-- cloud/server -->
<g><path d="M85.3,2.6 L88.6,1.6 L96,2.4 L96,10 L88.6,11 L85.3,9.6 Z" fill="#2aa0f4" stroke="#1a7ad8" stroke-width="0.5"/><path d="M88.6,1.8 L88.6,11" stroke="#bfe6ff" stroke-width="0.8"/><path d="M88.9,2.2 L95.8,2.8 L95.8,9.8 L88.9,10.6 Z" fill="#5cc0ff"/><rect x="90.4" y="5.2" width="4.8" height="1.3" fill="#eef8ff"/><path d="M85.8,16.6 C83.2,16.6 82.6,13.2 85.4,12.5 C85.4,10 89,8.6 91.2,10.5 C93,9 96.2,9.9 96,12.3 C99.4,12.4 99.6,16.6 96.6,16.6 Z" fill="#f1f4fa" stroke="#5877b4" stroke-width="0.9"/><path d="M85.6,15.4 h10.8" stroke="#c4cfe4" stroke-width="1"/></g>
<!-- signal -->
<g fill="none"><path d="M119.4,8.6 L123.2,2 A7.8,7.8 0 0 1 119.6,16.8 Z" fill="#7fc48c" opacity="0.45"/><circle cx="119.2" cy="9" r="7.6" stroke="url(#sig)" stroke-width="1.1" opacity="0.5"/><circle cx="119.2" cy="9" r="5.2" stroke="url(#sig)" stroke-width="1.1" opacity="0.65"/><circle cx="119.2" cy="9" r="2.9" stroke="url(#sig)" stroke-width="1.1" opacity="0.8"/><path d="M119.7,9 V16.9" stroke="#1fa83a" stroke-width="1.5"/><circle cx="119.1" cy="8.4" r="1.6" fill="#2a62d8"/></g>
<!-- expert hat -->
<g><path d="M138.6,9 L153,7.4 L146.2,16.8 Q143.4,16.4 138.6,9 Z" fill="#f7df5c" stroke="#cfa11e" stroke-width="0.8" stroke-linejoin="round"/><path d="M138,6.6 Q137.6,4.6 142.8,4.4 Q143.6,1.2 147,1.2 Q150.4,1.2 151,3.6 Q154.4,3.2 153.8,5 Q152.4,7.6 146,8.6 Q139.6,9.4 138,6.6 Z" fill="#7fc6ee" stroke="#2d8dbb" stroke-width="0.8" stroke-linejoin="round"/><path d="M142.8,4.6 Q146.8,6 151,3.8" fill="none" stroke="#2d8dbb" stroke-width="0.6"/><circle cx="150.7" cy="12.7" r="4.1" fill="#e2290f" stroke="#b81a06" stroke-width="0.5"/><rect x="149" y="11.3" width="3.1" height="2.7" fill="#fff"/></g>
<text x="159.1" y="12.3" font-size="11.5" letter-spacing="0.5" fill="#000" stroke="#000" stroke-width="0.3">自动交易</text>
<!-- bar chart icon -->
<use href="#axes" x="230" y="0"/><path d="M239.2,4.4 V12 M239.2,5 H241.6 M236.2,11.6 H239.2" stroke="#1d9a3c" stroke-width="1.4" fill="none"/>
<!-- candle icon -->
<use href="#axes" x="258" y="0"/><path d="M266.6,1 V13" stroke="#0f8f2c" stroke-width="1.2"/><rect x="264.2" y="3" width="4.8" height="7.6" fill="#38d64c" stroke="#0f8f2c" stroke-width="0.9"/>
<!-- line chart icon -->
<use href="#axes" x="286" y="0"/><path d="M287.4,11.8 Q291.6,6.2 293.6,6.4 Q295.6,6.8 298.8,10.2" fill="none" stroke="#2f9a46" stroke-width="1.3"/>
<!-- zoom in -->
<g><path d="M327.8,11.2 L332.6,15.4" stroke="#a8861a" stroke-width="3.4" stroke-linecap="round"/><path d="M327.8,11.2 L332.6,15.4" stroke="#ecd060" stroke-width="1.8" stroke-linecap="round"/><circle cx="324" cy="6.8" r="5.3" fill="#d6eafa" stroke="#3c8cdc" stroke-width="1.2"/><path d="M320.8,6.8 H327.2 M324,3.6 V10" stroke="#2f74b8" stroke-width="1.6"/></g>
<!-- zoom out -->
<g><path d="M355.8,11.2 L360.6,15.4" stroke="#a8861a" stroke-width="3.4" stroke-linecap="round"/><path d="M355.8,11.2 L360.6,15.4" stroke="#ecd060" stroke-width="1.8" stroke-linecap="round"/><circle cx="352" cy="6.8" r="5.3" fill="#d6eafa" stroke="#3c8cdc" stroke-width="1.2"/><path d="M348.8,6.8 H355.2" stroke="#2f74b8" stroke-width="1.6"/></g>
<!-- tile -->
<g shape-rendering="crispEdges"><rect x="374" y="1" width="8" height="8" fill="#3f9f22"/><rect x="382" y="1" width="8" height="8" fill="#2458cc"/><rect x="374" y="9" width="8" height="8" fill="#2458cc"/><rect x="382" y="9" width="8" height="8" fill="#3f9f22"/>
<g fill="#f2f6fb"><rect x="375" y="4" width="6" height="4"/><rect x="383" y="4" width="6" height="4"/><rect x="375" y="12" width="6" height="4"/><rect x="383" y="12" width="6" height="4"/></g>
<g><rect x="376" y="6" width="4" height="1" fill="#3f9f22"/><rect x="384" y="6" width="4" height="1" fill="#2458cc"/><rect x="376" y="14" width="4" height="1" fill="#2458cc"/><rect x="384" y="14" width="4" height="1" fill="#3f9f22"/></g></g>
<!-- autoscroll -->
<use href="#axes" x="410" y="0"/><polygon points="417,5.4 417,12 421.4,8.7" fill="#4fdc5c" stroke="#1f9a30" stroke-width="0.8"/>
<!-- chart shift -->
<use href="#axes" x="438" y="0"/><path d="M446.6,3 V13" stroke="#2a6fa8" stroke-width="1.3"/><path d="M452.4,8.6 H448.4 M450.4,6.2 L447.8,8.6 L450.4,11" stroke="#d8440c" stroke-width="1.2" fill="none"/>
<!-- indicators -->
<g><path d="M471.4,1.6 h8.2 l3.6,3.4 v9.4 h-11.8 z" fill="#f6f6f6" stroke="#9a9a9a" stroke-width="0.8"/><path d="M479.6,1.6 v3.4 h3.6" fill="#e6e6e6" stroke="#9a9a9a" stroke-width="0.7"/><path d="M475.6,4.4 h-1.4 v8 h1.4 M474.2,8.2 h1.6" stroke="#7a6a50" stroke-width="0.8" fill="none"/><path d="M479,7.8 h3.6 v3.4 h3.8 v3.6 h-3.8 v3.6 h-3.6 v-3.6 h-3.6 v-3.6 h3.6 z" fill="#2fd42f" stroke="#0c8c0c" stroke-width="0.9"/></g>
<use href="#dd" x="493" y="8.2"/>
<!-- clock -->
<g><circle cx="516.8" cy="8.9" r="6.7" fill="#f6f6f6" stroke="url(#clk)" stroke-width="2.5"/><circle cx="516.8" cy="8.9" r="7.9" fill="none" stroke="#1a56b0" stroke-width="0.5"/><circle cx="521.30" cy="8.90" r="0.38" fill="#8f98a4"/><circle cx="520.70" cy="11.15" r="0.38" fill="#8f98a4"/><circle cx="519.05" cy="12.80" r="0.38" fill="#8f98a4"/><circle cx="516.80" cy="13.40" r="0.38" fill="#8f98a4"/><circle cx="514.55" cy="12.80" r="0.38" fill="#8f98a4"/><circle cx="512.90" cy="11.15" r="0.38" fill="#8f98a4"/><circle cx="512.30" cy="8.90" r="0.38" fill="#8f98a4"/><circle cx="512.90" cy="6.65" r="0.38" fill="#8f98a4"/><circle cx="514.55" cy="5.00" r="0.38" fill="#8f98a4"/><circle cx="516.80" cy="4.40" r="0.38" fill="#8f98a4"/><circle cx="519.05" cy="5.00" r="0.38" fill="#8f98a4"/><circle cx="520.70" cy="6.65" r="0.38" fill="#8f98a4"/><path d="M516.4,5.2 L516.9,9 L519.8,8.8" stroke="#222" stroke-width="1.1" fill="none"/></g>
<use href="#dd" x="531.8" y="8.2"/>
<!-- templates -->
<g><rect x="548.4" y="2.2" width="15.6" height="13" fill="#fff" stroke="#3a78c8" stroke-width="0.9"/><rect x="548.4" y="2.2" width="15.6" height="2.4" fill="#4a8ad8"/><path d="M548.6,10.2 H564" stroke="#3a78c8" stroke-width="0.9"/><path d="M550.4,8.4 L553.4,7.2 L555.4,8 L557.6,6.6 L559.6,7.4 L562,6.4" stroke="#b02a10" stroke-width="1.1" fill="none"/><path d="M551.4,13.8 L554.2,12.8 L556.2,13.6 L558.8,11.6 L561.2,13.6" stroke="#1a8f2c" stroke-width="1.1" fill="none"/></g>
<use href="#dd" x="570.8" y="8.2"/>
<!-- cursor -->
<polygon points="600.1,2.4 600.1,13.2 602.6,10.8 604.8,16 607.2,15 605,10.2 608.6,9.8" fill="#404040"/>
<!-- crosshair -->
<path d="M632.4,2.4 V8 M632.4,10.6 V16.8 M625,9.3 H631 M633.8,9.3 H640" stroke="#505050" stroke-width="1.2"/>
<!-- line tools -->
<path d="M666.4,2.9 V15.9" stroke="#404040" stroke-width="1.4"/>
<path d="M689,9.3 H701.2" stroke="#404040" stroke-width="1.4"/>
<path d="M717,15.9 L729,3.8" stroke="#505050" stroke-width="1.3"/>
<!-- channel -->
<g stroke="#606060" stroke-width="0.9" fill="none"><path d="M742.7,10.5 L750.8,2.9 M747.9,15.7 L756.9,7.2"/></g>
<g stroke="#404040" stroke-width="1.1" fill="none"><path d="M754.4,1.4 L755.4,7.8 M754.6,4 L751.4,6.8 L752,4.6 L749,12 M751.6,7 L748.2,10.4 L748.6,8.2 L745.4,15.4 M748.4,10.4 L744.6,13.6"/></g>
<text x="753.7" y="17.8" font-size="6.6" font-weight="bold" fill="#303030" stroke="#303030" stroke-width="0.2">E</text>
<!-- fibo -->
<g fill="#404040" shape-rendering="crispEdges"><rect x="772" y="2" width="1" height="1"/><rect x="774" y="2" width="1" height="1"/><rect x="776" y="2" width="1" height="1"/><rect x="778" y="2" width="1" height="1"/><rect x="780" y="2" width="1" height="1"/><rect x="782" y="2" width="1" height="1"/><rect x="784" y="2" width="1" height="1"/><rect x="772" y="5" width="1" height="1"/><rect x="774" y="5" width="1" height="1"/><rect x="776" y="5" width="1" height="1"/><rect x="778" y="5" width="1" height="1"/><rect x="780" y="5" width="1" height="1"/><rect x="782" y="5" width="1" height="1"/><rect x="784" y="5" width="1" height="1"/><rect x="772" y="9" width="1" height="1"/><rect x="774" y="9" width="1" height="1"/><rect x="776" y="9" width="1" height="1"/><rect x="778" y="9" width="1" height="1"/><rect x="780" y="9" width="1" height="1"/><rect x="782" y="9" width="1" height="1"/><rect x="784" y="9" width="1" height="1"/><rect x="772" y="13" width="1" height="1"/><rect x="774" y="13" width="1" height="1"/><rect x="776" y="13" width="1" height="1"/><rect x="778" y="13" width="1" height="1"/><rect x="780" y="13" width="1" height="1"/></g>
<text x="781.7" y="17.8" font-size="6.6" font-weight="bold" fill="#303030" stroke="#303030" stroke-width="0.2">F</text>
<!-- A -->
<text x="802.4" y="14" font-size="12.4" fill="#505050" stroke="#505050" stroke-width="0.3">A</text>
<!-- T box -->
<rect x="829.5" y="3.5" width="11" height="12" fill="none" stroke="#505050" stroke-width="1" stroke-dasharray="1 1" shape-rendering="crispEdges"/>
<path d="M831,6.6 H839 M835,6.6 V14" stroke="#505050" stroke-width="1.5" fill="none"/>
<!-- arrows -->
<g fill="#404040"><polygon points="859.6,2.8 862.6,5.8 859.6,7.6 856.6,5.8"/><polygon points="866.8,10.6 870,12.6 866.8,15.8 863.6,12.6"/><path d="M858.6,9.4 L860.6,12 L865.2,6.6" stroke="#404040" stroke-width="1.2" fill="none"/></g>
<use href="#dd" x="876.8" y="8.2"/>
<!-- timeframes -->
<g font-size="9.7" fill="#404040" stroke="#404040" stroke-width="0.15">
<text x="903.4" y="13" textLength="12.8" lengthAdjust="spacingAndGlyphs">M1</text>
<text x="931.6" y="13" textLength="12.8" lengthAdjust="spacingAndGlyphs">M5</text>
<text x="957.6" y="13" textLength="17.8" lengthAdjust="spacingAndGlyphs">M15</text>
<text x="985.5" y="13" textLength="17.8" lengthAdjust="spacingAndGlyphs">M30</text>
<text x="1016.6" y="13" textLength="11.8" lengthAdjust="spacingAndGlyphs">H1</text>
<text x="1043.3" y="13" textLength="12.9" lengthAdjust="spacingAndGlyphs">H4</text>
<text x="1072.4" y="13" textLength="12" lengthAdjust="spacingAndGlyphs">D1</text>
<text x="1100.2" y="13" textLength="14" lengthAdjust="spacingAndGlyphs">W1</text>
<text x="1126.6" y="13" textLength="14.9" lengthAdjust="spacingAndGlyphs">MN</text>
</g>
<!-- search -->
<g><path d="M1616.4,9.5 L1612.4,13.6" stroke="#2a62d4" stroke-width="2.6" stroke-linecap="round"/><circle cx="1619.7" cy="6.5" r="3.9" fill="#fdfdfd" stroke="#2a5cd0" stroke-width="1.3"/></g>
<!-- chat + badge -->
<g><path d="M1636,11.4 a5.4,4.4 0 1 1 5.6,4.4 l-2,1.8 l-0.2,-1.9 a5.2,4.4 0 0 1 -3.4,-4.3 z" fill="#e4e4ec" stroke="#b4b4b8" stroke-width="0.8"/><circle cx="1650.6" cy="6.7" r="7.9" fill="url(#badge)"/><text x="1646.6" y="10.8" font-size="12" fill="#fff" stroke="#fff" stroke-width="0.15">1</text></g>
</g>

</svg>
</body></html>
